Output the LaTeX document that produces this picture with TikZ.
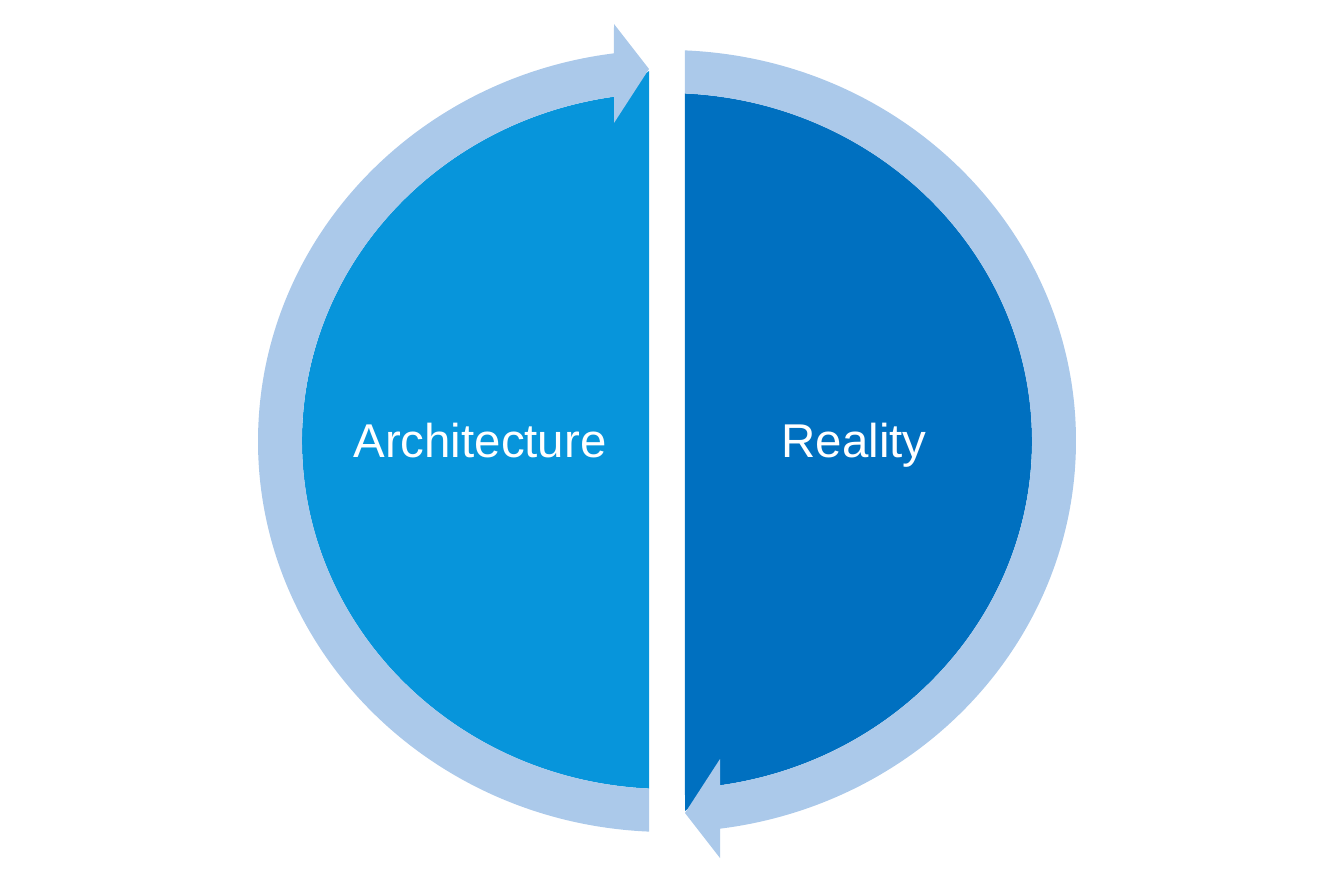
\documentclass[tikz,border=0pt]{standalone}
\usepackage{fontspec}
\setmainfont{Liberation Sans}
\definecolor{archblue}{HTML}{0795DB}
\definecolor{realblue}{HTML}{0070C0}
\definecolor{ringblue}{HTML}{ABC9EA}
\tikzset{
  ringarrow/.style={fill=ringblue, draw=none},
  halffill/.style={draw=none},
  halflabel/.style={text=white, font=\fontsize{27}{32}\selectfont,
                    inner sep=0pt, anchor=base},
}

\begin{document}
\begin{tikzpicture}[x=0.02cm, y=0.02cm]
    \useasboundingbox (-667,-448) rectangle (667,441);
    % the two halves
    \fill[halffill, archblue] (267.2:365 and 348)
      arc[start angle=267.2, end angle=98.35, x radius=365, y radius=348]
      -- (-18,370) -- cycle;
    \fill[halffill, realblue] (87.2:365 and 348)
      arc[start angle=87.2, end angle=-81.65, x radius=365, y radius=348]
      -- (18,-370) -- cycle;
    % ring arrows
    \fill[ringarrow] (267.5:409 and 391)
      arc[start angle=267.5, end angle=97.45, x radius=409, y radius=391]
      -- (-53,417) -- (-18,372) -- (-53,318) -- (98.35:365 and 348)
      arc[start angle=98.35, end angle=267.2, x radius=365, y radius=348]
      -- cycle;
    \fill[ringarrow] (87.5:409 and 391)
      arc[start angle=87.5, end angle=-82.55, x radius=409, y radius=391]
      -- (53,-417) -- (18,-372) -- (53,-318) -- (-81.65:365 and 348)
      arc[start angle=-81.65, end angle=87.2, x radius=365, y radius=348]
      -- cycle;
    \node[halflabel] (arch) at (-187,-16) {Architecture};
    \node[halflabel] (real) at (187,-16) {Reality};
\end{tikzpicture}
\end{document}
